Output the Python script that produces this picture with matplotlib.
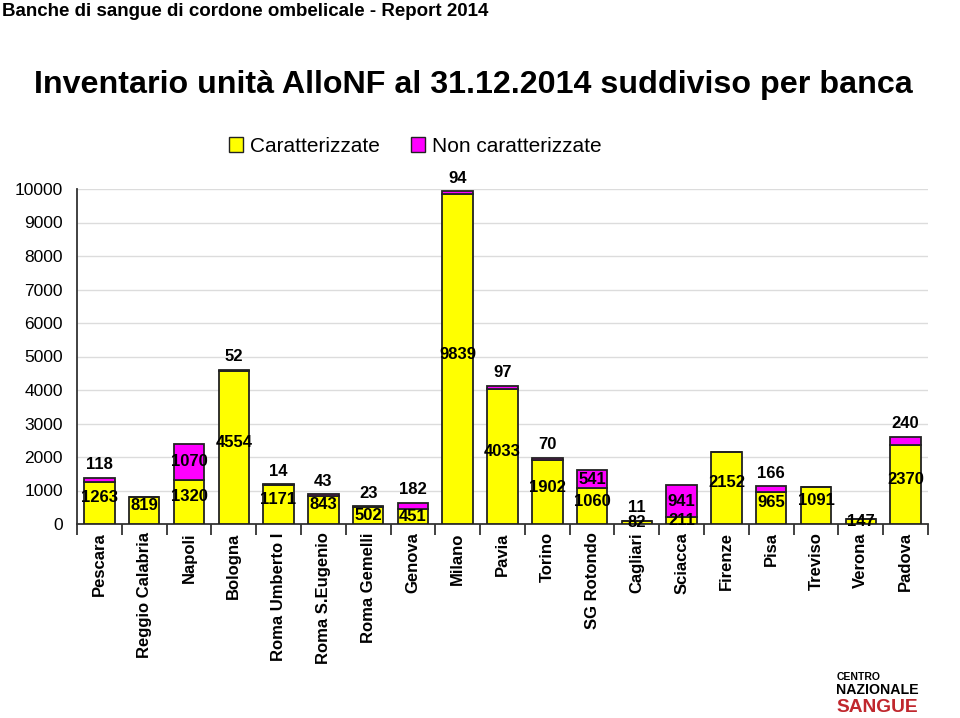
import matplotlib
matplotlib.use("Agg")
import matplotlib.pyplot as plt
import numpy as np

plt.rcParams['font.family'] = ['Liberation Sans', 'DejaVu Sans']

categories = ["Pescara", "Reggio Calabria", "Napoli", "Bologna", "Roma Umberto I",
              "Roma S.Eugenio", "Roma Gemelli", "Genova", "Milano", "Pavia", "Torino",
              "SG Rotondo", "Cagliari", "Sciacca", "Firenze", "Pisa", "Treviso",
              "Verona", "Padova"]
caratterizzate = [1263, 819, 1320, 4554, 1171, 843, 502, 451, 9839, 4033, 1902,
                  1060, 82, 211, 2152, 965, 1091, 147, 2370]
non_caratterizzate = [118, 0, 1070, 52, 14, 43, 23, 182, 94, 97, 70,
                      541, 11, 941, 0, 166, 0, 0, 240]
yticks = list(range(0, 10001, 1000))

W, H = 960, 718
fig = plt.figure(figsize=(W / 100, H / 100), dpi=100)
fig.patch.set_facecolor("white")

ax = fig.add_axes([77 / W, 1 - 524 / H, (928 - 77) / W, (524 - 189) / H])
x = np.arange(len(categories))
bw = 0.68
yellow, magenta = "#FFFF00", "#FF00FF"
ax.bar(x, caratterizzate, bw, color=yellow, edgecolor="#222222", linewidth=1.3,
       label="Caratterizzate", zorder=3)
ax.bar(x, non_caratterizzate, bw, bottom=caratterizzate, color=magenta,
       edgecolor="#222222", linewidth=1.3, label="Non caratterizzate", zorder=3)

ax.set_xlim(-0.5, len(categories) - 0.5)
ax.set_ylim(0, 10000)
ax.set_yticks(yticks)
ax.set_yticklabels([str(v) for v in yticks], fontsize=12.5)
ax.tick_params(axis="y", length=0, pad=10)
ax.yaxis.grid(True, color="#dcdcdc", linewidth=1.0, zorder=0)
ax.set_axisbelow(True)
for s in ["top", "right"]:
    ax.spines[s].set_visible(False)
for s in ["left", "bottom"]:
    ax.spines[s].set_color("#333333")
    ax.spines[s].set_linewidth(1.3)

# category boundary ticks
ax.set_xticks(np.arange(-0.5, len(categories), 1.0), minor=True)
ax.set_xticks(x)
ax.set_xticklabels(categories, rotation=90, fontsize=12, fontweight="bold",
                   va="top", ha="center")
ax.tick_params(axis="x", which="major", length=0, pad=6)
ax.tick_params(axis="x", which="minor", length=8, width=1.3, color="#333333")

lblfont = dict(fontsize=12, fontweight="bold", color="black", zorder=5)
for i, (c, n) in enumerate(zip(caratterizzate, non_caratterizzate)):
    ax.text(i, c / 2 + (150 if c > 600 else 0), str(c), ha="center", va="center", **lblfont)
    if n >= 500:
        ax.text(i, c + n / 2, str(n), ha="center", va="center", **lblfont)
    elif n > 0:
        ax.annotate(str(n), (i, c + n), xytext=(0, 4), textcoords="offset points",
                    ha="center", va="bottom", **lblfont)

leg = ax.legend(loc="center", bbox_to_anchor=(415 / W, 1 - 146 / H),
                bbox_transform=fig.transFigure, ncol=2, frameon=False,
                fontsize=15, handlelength=0.7, handleheight=0.7,
                handletextpad=0.3, columnspacing=1.5, borderaxespad=0)
for h in leg.legend_handles:
    h.set_edgecolor("#222222")
    h.set_linewidth(1.0)

fig.text(2 / W, 1 - 11 / H, "Banche di sangue di cordone ombelicale - Report 2014",
         fontsize=13.5, fontweight="bold", ha="left", va="center")
fig.text(473 / W, 1 - 85 / H, "Inventario unità AlloNF al 31.12.2014 suddiviso per banca",
         fontsize=23.2, fontweight="bold", ha="center", va="center")

# logo text
fig.text(837 / W, 1 - 677 / H, "CENTRO", fontsize=7.5, fontweight="bold", ha="left",
         va="center")
fig.text(836 / W, 1 - 690 / H, "NAZIONALE", fontsize=10.2, fontweight="bold", ha="left",
         va="center")
fig.text(836 / W, 1 - 707 / H, "SANGUE", fontsize=13.8, fontweight="bold", color="#c0272d",
         ha="left", va="center")

fig.savefig("out.png", dpi=100, facecolor="white")
